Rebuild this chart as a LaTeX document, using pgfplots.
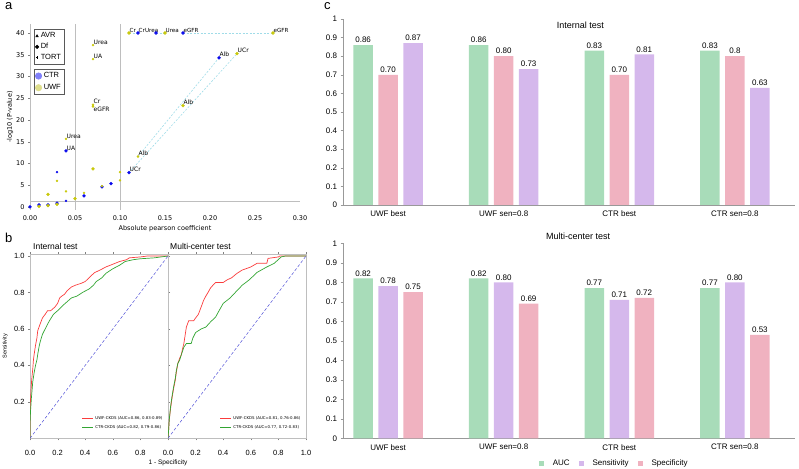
\documentclass[border=0pt]{standalone}
\usepackage{pgfplots}
\pgfplotsset{compat=1.18}
\usepackage{fontspec}
\setmainfont{Liberation Sans}
\newfontfamily\dvs{DejaVu Sans}
\newcommand{\fs}[1]{\fontsize{#1}{#1}\selectfont}
\definecolor{ctrblue}{RGB}{10,10,235}
\definecolor{uwfyel}{RGB}{200,200,10}
\definecolor{ctrleg}{RGB}{128,128,250}
\definecolor{uwfleg}{RGB}{222,222,140}
\definecolor{dashcyan}{RGB}{160,220,232}
\definecolor{lgray}{RGB}{190,190,190}
\definecolor{cgreen}{RGB}{168,220,185}
\definecolor{cpink}{RGB}{240,178,192}
\definecolor{cpurple}{RGB}{213,184,236}
\definecolor{rocred}{RGB}{250,60,60}
\definecolor{rocgreen}{RGB}{50,165,50}
\definecolor{diagblue}{RGB}{80,80,215}
\begin{document}
\begin{tikzpicture}
\useasboundingbox (0pt,0pt) rectangle (799pt,468pt);
\node[anchor=base west,font=\fs{13},inner sep=0] at (5pt,458pt) {a};
\node[anchor=base west,font=\fs{13},inner sep=0] at (5pt,225pt) {b};
\node[anchor=base west,font=\fs{13},inner sep=0] at (324pt,458pt) {c};
% ---------------- panel a
\begin{axis}[at={(30pt,258pt)},anchor=south west,scale only axis,width=270pt,height=185.7pt,
 xmin=0,xmax=0.30,ymin=-0.7,ymax=42,clip=false,
 axis x line*=bottom,axis y line*=left,
 x axis line style={draw=none},y axis line style={draw=lgray,line width=0.7pt},
 xtick={0,0.05,0.1,0.15,0.2,0.25,0.3},xticklabels={0.00,0.05,0.10,0.15,0.20,0.25,0.30},
 ytick={0,5,10,15,20,25,30,35,40},yticklabels={0,5,10,15,20,25,30,35,40},
 xtick style={draw=none},ytick style={draw=gray},major tick length=2pt,tick align=outside,
 ticklabel style={font=\dvs\fs{6.5}},
 xlabel={Absolute pearson coefficient},xlabel style={font=\dvs\fs{6.5},at={(axis description cs:0.5,0)},anchor=center,yshift=-19pt},
 ylabel={-log10 (P-value)},ylabel style={font=\dvs\fs{6.5},at={(axis description cs:-0.074,0.5)},anchor=center},
]
\addplot[lgray,line width=0.7pt] coordinates {(0.05,-0.7)(0.05,42)};
\addplot[lgray,line width=0.7pt] coordinates {(0.10,-0.7)(0.10,42)};
\addplot[lgray,line width=0.7pt] coordinates {(0,1.301)(0.30,1.301)};
\addplot[dashcyan,line width=0.6pt,dash pattern=on 2pt off 1.5pt] coordinates {(0.11,40)(0.12,40)};
\addplot[dashcyan,line width=0.6pt,dash pattern=on 2pt off 1.5pt] coordinates {(0.14,40)(0.15,40)};
\addplot[dashcyan,line width=0.6pt,dash pattern=on 2pt off 1.5pt] coordinates {(0.17,40)(0.27,40)};
\addplot[dashcyan,line width=0.6pt,dash pattern=on 2pt off 1.5pt] coordinates {(0.11,7.9)(0.23,35.25)};
\addplot[dashcyan,line width=0.6pt,dash pattern=on 2pt off 1.5pt] coordinates {(0.12,11.6)(0.21,34.3)};
\addplot[only marks,mark=*,mark size=1.5pt,color=ctrblue] coordinates {
(0,0)(0.01,0.45)(0.02,0.45)(0.03,0.9)(0.04,12.9)(0.06,2.55)(0.08,4.6)(0.09,5.35)(0.11,7.9)(0.12,40)(0.14,40)(0.17,40)(0.21,34.3)};
\addplot[only marks,mark=*,mark size=1.0pt,color=ctrblue] coordinates {(0.03,8.0)(0.04,1.4)};
\addplot[only marks,mark=*,mark size=1.5pt,color=uwfyel] coordinates {
(0.01,0.15)(0.02,0.3)(0.02,2.9)(0.03,0.6)(0.05,1.9)(0.07,8.76)(0.11,40)(0.15,40)(0.17,23.3)(0.23,35.25)(0.27,40)};
\addplot[only marks,mark=*,mark size=1.0pt,color=uwfyel] coordinates {
(0.03,6.0)(0.04,3.6)(0.04,15.65)(0.06,3.25)(0.07,37.2)(0.07,34.0)(0.07,23.5)(0.07,23.1)(0.08,4.8)(0.10,8.0)(0.10,6.1)(0.12,11.6)};
\tikzset{pl/.style={font=\dvs\fs{6},inner sep=0.5pt,anchor=south west}}
\node[pl] at (axis cs:0.07,37.2) {Urea};
\node[pl] at (axis cs:0.07,34.0) {UA};
\node[pl] at (axis cs:0.07,23.5) {Cr};
\node[pl,anchor=north west] at (axis cs:0.07,23.1) {eGFR};
\node[pl] at (axis cs:0.04,15.65) {Urea};
\node[pl] at (axis cs:0.04,12.9) {UA};
\node[pl] at (axis cs:0.12,11.6) {Alb};
\node[pl] at (axis cs:0.11,7.9) {UCr};
\node[pl] at (axis cs:0.17,23.3) {Alb};
\node[pl] at (axis cs:0.21,34.3) {Alb};
\node[pl] at (axis cs:0.23,35.25) {UCr};
\node[pl,font=\dvs\fs{5.6}] at (axis cs:0.11,40) {Cr};
\node[pl,font=\dvs\fs{5.6}] at (axis cs:0.12,40) {Cr};
\node[pl,font=\dvs\fs{5.6},anchor=south east,xshift=3pt] at (axis cs:0.14,40) {Urea};
\node[pl,font=\dvs\fs{5.6}] at (axis cs:0.15,40) {Urea};
\node[pl,font=\dvs\fs{5.6}] at (axis cs:0.17,40) {eGFR};
\node[pl,font=\dvs\fs{5.6}] at (axis cs:0.27,40) {eGFR};
\end{axis}
% legend boxes for panel a
\begin{axis}[at={(30pt,258pt)},anchor=south west,scale only axis,width=270pt,height=185.7pt,hide axis,xmin=0,xmax=1,ymin=0,ymax=1,
 legend style={at={(0.015,0.975)},anchor=north west,draw=gray!70!black,line width=0.6pt,fill=white,font=\fs{7.5},inner xsep=1pt,inner ysep=1.5pt,row sep=0pt,cells={anchor=west}},
 legend image code/.code={\draw[mark repeat=2,mark phase=2,#1] plot coordinates {(0pt,0pt)(4.5pt,0pt)(9pt,0pt)};}]
\addlegendimage{only marks,mark=triangle*,mark size=1.3pt,black}
\addlegendentry{AVR}
\addlegendimage{only marks,mark=*,mark size=1.7pt,black}
\addlegendentry{Df}
\addlegendimage{only marks,mark=+,mark size=1.3pt,black,line width=0.7pt}
\addlegendentry{TORT}
\end{axis}
\begin{axis}[at={(30pt,258pt)},anchor=south west,scale only axis,width=270pt,height=185.7pt,hide axis,xmin=0,xmax=1,ymin=0,ymax=1,
 legend style={at={(0.015,0.76)},anchor=north west,draw=gray!70!black,line width=0.6pt,fill=white,font=\fs{7.5},inner xsep=1pt,inner ysep=1.5pt,row sep=1pt,cells={anchor=west}},
 legend image code/.code={\draw[mark repeat=2,mark phase=2,#1] plot coordinates {(0pt,0pt)(4.5pt,0pt)(9pt,0pt)};}]
\addlegendimage{only marks,mark=*,mark size=3.2pt,ctrleg}
\addlegendentry{CTR}
\addlegendimage{only marks,mark=*,mark size=3.2pt,uwfleg}
\addlegendentry{UWF}
\end{axis}
% ---------------- panel b
\pgfplotsset{rocax/.style={scale only axis,anchor=south west,width=138pt,height=184.1pt,
 xmin=0,xmax=1,ymin=0,ymax=1.01,axis line style={draw=lgray,line width=0.9pt},
 tick style={draw=gray},major tick length=2pt,tick align=outside,
 ticklabel style={font=\fs{7.5}},xticklabel style={yshift=-6pt},
 legend style={draw=none,fill=none,at={(0.975,0.035)},anchor=south east,inner sep=0pt,row sep=0.3pt,font=\dvs\fs{3.9},cells={anchor=west}},
 legend image code/.code={\draw[#1] (0pt,0pt) -- (11pt,0pt);}}}
\begin{axis}[rocax,at={(30pt,29.7pt)},
 xtick={0,0.2,0.4,0.6,0.8},xticklabels={0.0,0.2,0.4,0.6,0.8},
 ytick={0.2,0.4,0.6,0.8,1.0},yticklabels={0.2,0.4,0.6,0.8,1.0},
 ylabel={Sensitivity},ylabel style={font=\fs{5.5},at={(axis description cs:-0.18,0.5)},anchor=center}]
\addplot[rocred,line width=0.7pt] coordinates {(0,0)(0,0.10)(0.003,0.20)(0.008,0.27)(0.012,0.32)(0.02,0.38)(0.025,0.43)(0.03,0.46)(0.04,0.51)(0.05,0.55)(0.056,0.59)(0.07,0.62)(0.08,0.64)(0.09,0.66)(0.11,0.68)(0.127,0.70)(0.15,0.70)(0.18,0.72)(0.2,0.74)(0.215,0.77)(0.23,0.78)(0.25,0.79)(0.27,0.81)(0.30,0.83)(0.33,0.84)(0.37,0.85)(0.40,0.86)(0.44,0.89)(0.47,0.91)(0.50,0.92)(0.55,0.94)(0.6,0.955)(0.65,0.97)(0.7,0.98)(0.72,0.99)(0.8,0.995)(0.85,1.0)(1,1)};
\addlegendentry{UWF-CKDS (AUC=0.86, 0.83-0.89)}
\addplot[rocgreen,line width=0.7pt] coordinates {(0,0)(0,0.08)(0.004,0.15)(0.01,0.22)(0.02,0.31)(0.03,0.36)(0.04,0.40)(0.05,0.43)(0.056,0.46)(0.065,0.50)(0.074,0.53)(0.09,0.57)(0.11,0.60)(0.13,0.63)(0.145,0.65)(0.17,0.68)(0.2,0.70)(0.24,0.73)(0.27,0.75)(0.3,0.77)(0.34,0.78)(0.38,0.80)(0.43,0.82)(0.46,0.84)(0.48,0.86)(0.52,0.88)(0.55,0.905)(0.6,0.93)(0.65,0.95)(0.69,0.97)(0.75,0.98)(0.8,0.985)(0.9,0.99)(0.95,0.995)(1,1)};
\addlegendentry{CTR-CKDS (AUC=0.82, 0.79-0.86)}
\addplot[diagblue,line width=0.5pt,densely dashed,forget plot] coordinates {(0,0)(1,1)};
\end{axis}
\begin{axis}[rocax,at={(168pt,29.7pt)},
 xtick={0,0.2,0.4,0.6,0.8,1.0},xticklabels={0.0,0.2,0.4,0.6,0.8,1.0},ytick=\empty]
\addplot[rocred,line width=0.7pt] coordinates {(0,0)(0.005,0.05)(0.009,0.10)(0.018,0.16)(0.027,0.21)(0.04,0.27)(0.053,0.32)(0.06,0.36)(0.071,0.41)(0.085,0.44)(0.097,0.46)(0.105,0.49)(0.115,0.52)(0.125,0.57)(0.133,0.61)(0.15,0.645)(0.186,0.645)(0.2,0.66)(0.22,0.68)(0.24,0.72)(0.257,0.755)(0.274,0.78)(0.29,0.80)(0.31,0.827)(0.345,0.855)(0.4,0.855)(0.43,0.87)(0.46,0.88)(0.5,0.905)(0.538,0.923)(0.6,0.94)(0.645,0.96)(0.716,0.96)(0.725,0.987)(0.8,0.995)(0.81,1.0)(1,1)};
\addlegendentry{UWF-CKDS (AUC=0.81, 0.76-0.86)}
\addplot[rocgreen,line width=0.7pt] coordinates {(0,0)(0.005,0.05)(0.009,0.10)(0.018,0.17)(0.027,0.22)(0.04,0.28)(0.053,0.33)(0.06,0.37)(0.071,0.41)(0.085,0.43)(0.097,0.46)(0.115,0.50)(0.133,0.52)(0.168,0.52)(0.18,0.55)(0.2,0.58)(0.24,0.60)(0.274,0.61)(0.31,0.64)(0.345,0.665)(0.37,0.70)(0.4,0.74)(0.45,0.77)(0.5,0.81)(0.538,0.84)(0.59,0.87)(0.645,0.91)(0.716,0.94)(0.77,0.96)(0.82,0.995)(0.85,1.0)(1,1)};
\addlegendentry{CTR-CKDS (AUC=0.77, 0.72-0.83)}
\addplot[diagblue,line width=0.5pt,densely dashed,forget plot] coordinates {(0,0)(1,1)};
\end{axis}
\node[anchor=base west,font=\fs{8.5},inner sep=0] at (33pt,218.5pt) {Internal test};
\node[anchor=base west,font=\fs{8.5},inner sep=0] at (170pt,218.5pt) {Multi-center test};
\node[anchor=center,font=\fs{6.5},inner sep=0] at (168pt,5.5pt) {1 - Specificity};
% ---------------- panel c
\pgfplotsset{barax/.style={scale only axis,anchor=south west,width=452pt,
 xmin=-0.39,xmax=3.52,ymin=0,ymax=1,clip=false,
 axis x line*=bottom,axis y line*=left,axis line style={draw=gray!80,line width=0.6pt},
 xtick={0,1,2,3},xticklabels={UWF best,UWF sen=0.8,CTR best,CTR sen=0.8},
 ytick={0,0.1,0.2,0.3,0.4,0.5,0.6,0.7,0.8,0.9,1},yticklabels={0,0.1,0.2,0.3,0.4,0.5,0.6,0.7,0.8,0.9,1},
 xtick style={draw=none},ytick style={draw=gray!80},major tick length=2.5pt,tick align=outside,
 ticklabel style={font=\fs{8}},
 ybar,bar width=19.5pt,bar shift=0pt,
 nodes near coords,point meta=explicit symbolic,nodes near coords style={font=\fs{8},inner sep=2pt},
 legend image code/.code={\fill[#1] (0pt,-2.5pt) rectangle (5pt,2.5pt);}}}
\begin{axis}[barax,at={(343pt,263pt)},height=186pt]
\addplot[fill=cgreen,draw=none] table[meta=l] {
x y l
-0.216 0.86 0.86
0.784 0.86 0.86
1.784 0.83 0.83
2.784 0.83 0.83
};
\addplot[fill=cpink,draw=none] table[meta=l] {
x y l
0 0.70 0.70
1 0.80 0.80
2 0.70 0.70
3 0.80 0.8
};
\addplot[fill=cpurple,draw=none] table[meta=l] {
x y l
0.216 0.87 0.87
1.216 0.73 0.73
2.216 0.81 0.81
3.216 0.63 0.63
};
\node[anchor=north,font=\fs{9},inner sep=0] at (rel axis cs:0.525,0.985) {Internal test};
\end{axis}
\begin{axis}[barax,at={(343pt,29.7pt)},height=195pt,
 legend style={at={(0.6,-0.1)},anchor=north,draw=none,fill=none,font=\fs{8},legend columns=3,column sep=7pt,inner sep=0pt}]
\addplot[fill=cgreen,draw=none] table[meta=l] {
x y l
-0.216 0.82 0.82
0.784 0.82 0.82
1.784 0.77 0.77
2.784 0.77 0.77
};
\addlegendentry{AUC}
\addplot[fill=cpurple,draw=none] table[meta=l] {
x y l
0 0.78 0.78
1 0.80 0.80
2 0.71 0.71
3 0.80 0.80
};
\addlegendentry{Sensitivity}
\addplot[fill=cpink,draw=none] table[meta=l] {
x y l
0.216 0.75 0.75
1.216 0.69 0.69
2.216 0.72 0.72
3.216 0.53 0.53
};
\addlegendentry{Specificity}
\node[anchor=base,font=\fs{9},inner sep=0] at ([yshift=4pt]rel axis cs:0.52,1) {Multi-center test};
\end{axis}
\end{tikzpicture}
\end{document}
